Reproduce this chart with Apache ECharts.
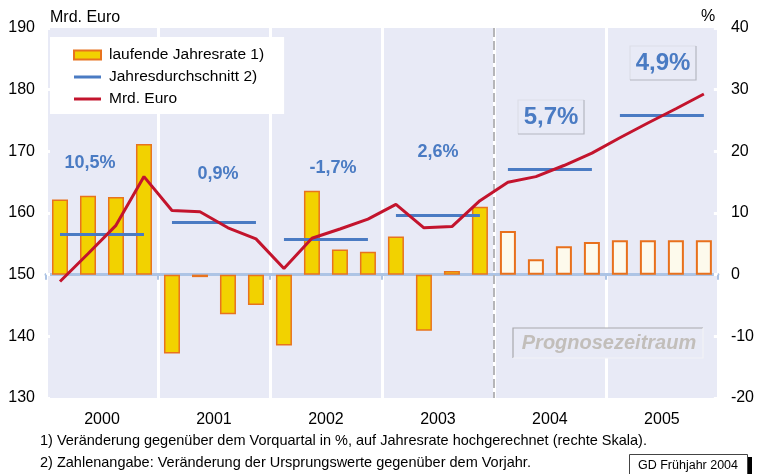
<!DOCTYPE html>
<html>
<head>
<meta charset="utf-8">
<script src="https://cdn.jsdelivr.net/npm/echarts@6/dist/echarts.min.js"></script>
<style>
  html, body { margin: 0; padding: 0; background: #fff; }
  #chart { width: 757px; height: 474px; }
</style>
</head>
<body>
<div id="chart"></div>
<script>
// Data
var years = ['2000', '2001', '2002', '2003', '2004', '2005'];
var quarters = [];
years.forEach(function (y) {
    ['Q1', 'Q2', 'Q3', 'Q4'].forEach(function (q) { quarters.push(y + ' ' + q); });
});

// laufende Jahresrate in % (right axis)
var rates = [12.2, 12.8, 12.6, 21.2, -12.8, -0.4, -6.4, -4.9, -11.5, 13.6, 4.1, 3.7,
             6.2, -9.1, 0.6, 11.0, 7.1, 2.5, 4.6, 5.3, 5.6, 5.6, 5.6, 5.6];
// Mrd. Euro (left axis)
var mrdEuro = [148.9, 153.4, 158.0, 165.9, 160.4, 160.2, 157.6, 155.8, 151.0, 155.9, 157.4, 159.0,
               161.4, 157.6, 157.8, 162.0, 165.0, 165.9, 167.7, 169.7, 172.2, 174.6, 176.9, 179.3];
// Jahresdurchschnitt (left axis)
var averages = [156.5, 158.5, 155.8, 159.7, 167.1, 175.9];
var averageLabels = ['10,5%', '0,9%', '-1,7%', '2,6%', '5,7%', '4,9%'];
var forecastStart = 16; // first forecast quarter (2004 Q1)

var leftTicks = { min: 130, max: 190, interval: 10 };
var rightTicks = { min: -20, max: 40, interval: 10 };

var FONT = '"Liberation Sans", Arial, sans-serif';
var BLUE = '#4a7bc3';
var RED = '#c3142d';
var PLOT_BG = '#e8eaf6';
var LINE_ICON = 'path://M0,0h27v3h-27z';

// bar items, forecast quarters drawn hollow
var barData = rates.map(function (v, i) {
    if (i < forecastStart) return v;
    return {
        value: v,
        itemStyle: { color: '#fdfaec', borderColor: '#e8701c', borderWidth: 2 }
    };
});

// average lines from first to last quarter of each year
var avgLines = averages.map(function (v, i) {
    return [
        { coord: [quarters[i * 4], v] },
        { coord: [quarters[i * 4 + 3], v] }
    ];
});

// small text helper
function txt(x, y, s, style) {
    return {
        type: 'text', x: x, y: y, z: 100,
        style: Object.assign({ text: s, font: '16px ' + FONT, fill: '#000', align: 'left', verticalAlign: 'middle' }, style || {})
    };
}

// box with light top/left and darker bottom/right edges
function box(x, y, w, h, light, dark, fill) {
    return [
        { type: 'rect', z: 98, shape: { x: x, y: y, width: w, height: h }, style: { fill: fill || 'none' } },
        { type: 'polyline', z: 99, shape: { points: [[x, y + h], [x, y], [x + w, y]] },
          style: { stroke: light, lineWidth: 1.2, fill: null } },
        { type: 'polyline', z: 99, shape: { points: [[x + w, y], [x + w, y + h], [x, y + h]] },
          style: { stroke: dark, lineWidth: 1.2, fill: null } }
    ];
}

var option = {
    animation: false,
    textStyle: { fontFamily: FONT },

    grid: {
        left: 46, right: 37, top: 28, bottom: 76,
        show: true, backgroundColor: PLOT_BG, borderWidth: 0
    },

    legend: {
        left: 50, top: 37,
        orient: 'vertical',
        backgroundColor: '#fff',
        padding: [10, 20, 7, 23],
        itemGap: 6,
        itemWidth: 27,
        itemHeight: 9,
        textStyle: { fontSize: 15.5, color: '#000', fontFamily: FONT, padding: [0, 0, 0, 3] },
        data: [
            { name: 'laufende Jahresrate 1)', icon: 'rect' },
            { name: 'Jahresdurchschnitt 2)', icon: LINE_ICON },
            { name: 'Mrd. Euro', icon: LINE_ICON }
        ]
    },

    xAxis: [{
        type: 'category',
        data: quarters,
        axisLabel: { show: false },
        axisLine: { onZero: true, onZeroAxisIndex: 1, lineStyle: { color: '#adc4e5', width: 3 } },
        axisTick: { show: true, interval: 3, length: 5, lineStyle: { color: '#adc4e5', width: 2 } },
        splitLine: { show: false }
    }, {
        type: 'category',
        data: years,
        position: 'bottom',
        axisLine: { show: false, onZero: false },
        axisTick: { show: false },
        axisLabel: { fontSize: 16, color: '#000', margin: 14, fontFamily: FONT },
        splitLine: { show: true, lineStyle: { color: '#fff', width: 3 } }
    }],

    yAxis: [{
        type: 'value',
        position: 'left',
        min: leftTicks.min, max: leftTicks.max, interval: leftTicks.interval,
        axisLine: { show: false },
        axisTick: { show: true, inside: true, length: 4, lineStyle: { color: '#fff', width: 3 } },
        axisLabel: { fontSize: 16, color: '#000', margin: 11, fontFamily: FONT },
        splitLine: { show: false }
    }, {
        type: 'value',
        position: 'right',
        min: rightTicks.min, max: rightTicks.max, interval: rightTicks.interval,
        axisLine: { show: false },
        axisTick: { show: true, inside: true, length: 4, lineStyle: { color: '#fff', width: 3 } },
        axisLabel: { fontSize: 16, color: '#000', margin: 13, fontFamily: FONT },
        splitLine: { show: false }
    }],

    series: [
        {
            // dashed line at the start of the forecast period
            name: 'forecast',
            type: 'custom',
            xAxisIndex: 0,
            yAxisIndex: 1,
            silent: true,
            z: 1,
            data: [[forecastStart, 0]],
            renderItem: function (params, api) {
                var p = api.coord([api.value(0), 0]);
                var bw = api.size([1, 0])[0];
                var cs = params.coordSys;
                var x = Math.round(p[0] - bw / 2);
                return {
                    type: 'line',
                    shape: { x1: x, y1: cs.y, x2: x, y2: cs.y + cs.height },
                    style: { stroke: '#b5b5b8', lineWidth: 2, lineDash: [9, 4] }
                };
            }
        },
        {
            name: 'laufende Jahresrate 1)',
            type: 'bar',
            xAxisIndex: 0,
            yAxisIndex: 1,
            barWidth: 16,
            data: barData,
            itemStyle: { color: '#f2d200', borderColor: '#e8731e', borderWidth: 1.5 }
        },
        {
            name: 'Jahresdurchschnitt 2)',
            type: 'line',
            xAxisIndex: 0,
            yAxisIndex: 0,
            symbol: 'none',
            data: [],
            itemStyle: { color: BLUE },
            lineStyle: { color: BLUE, width: 3 },
            markLine: {
                silent: true,
                symbol: ['none', 'none'],
                label: { show: false },
                lineStyle: { color: BLUE, width: 3, type: 'solid' },
                data: avgLines
            }
        },
        {
            name: 'Mrd. Euro',
            type: 'line',
            xAxisIndex: 0,
            yAxisIndex: 0,
            symbol: 'none',
            data: mrdEuro,
            itemStyle: { color: RED },
            lineStyle: { color: RED, width: 3 },
            z: 5
        }
    ],

    graphic: [].concat(
        [
            txt(50, 18, 'Mrd. Euro'),
            txt(708, 17, '%', { align: 'center' }),

            // yearly change labels
            txt(90, 163, averageLabels[0], { font: 'bold 18px ' + FONT, fill: BLUE, align: 'center' }),
            txt(218, 174, averageLabels[1], { font: 'bold 18px ' + FONT, fill: BLUE, align: 'center' }),
            txt(333, 168, averageLabels[2], { font: 'bold 18px ' + FONT, fill: BLUE, align: 'center' }),
            txt(438, 152, averageLabels[3], { font: 'bold 18px ' + FONT, fill: BLUE, align: 'center' }),
            txt(551, 117, averageLabels[4], { font: 'bold 24px ' + FONT, fill: BLUE, align: 'center' }),
            txt(663, 63, averageLabels[5], { font: 'bold 24px ' + FONT, fill: BLUE, align: 'center' }),
            txt(609, 343, 'Prognosezeitraum', { font: 'italic bold 20px ' + FONT, fill: '#c2beba', align: 'center' }),

            // footnotes
            txt(40, 441, '1) Veränderung gegenüber dem Vorquartal in %, auf Jahresrate hochgerechnet (rechte Skala).', { font: '14.5px ' + FONT }),
            txt(40, 463, '2) Zahlenangabe: Veränderung der Ursprungswerte gegenüber dem Vorjahr.', { font: '14.5px ' + FONT }),

            // source box
            { type: 'rect', z: 98, shape: { x: 632, y: 457, width: 120, height: 25 }, style: { fill: '#000' } },
            { type: 'rect', z: 99, shape: { x: 629.5, y: 454.5, width: 118, height: 25 },
              style: { fill: '#fff', stroke: '#444', lineWidth: 1 } },
            txt(688, 466, 'GD Frühjahr 2004', { font: '12.5px ' + FONT, align: 'center' })
        ],
        box(518, 100, 66, 34, '#dcdee8', '#b4b6c0'),
        box(630, 46, 66, 34, '#dcdee8', '#b4b6c0'),
        box(513, 328, 190, 30, '#a8a8ac', '#f2f2f6', PLOT_BG)
    )
};

var chart = echarts.init(document.getElementById('chart'));
chart.setOption(option);
</script>
</body>
</html>
